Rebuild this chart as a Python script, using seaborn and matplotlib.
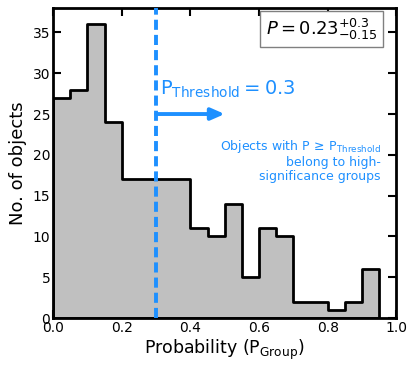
import numpy as np
import matplotlib
matplotlib.use("Agg")
import matplotlib.pyplot as plt
import seaborn as sns

# bin edges and counts
bin_edges = [0.0, 0.05, 0.10, 0.15, 0.20, 0.25, 0.30, 0.35, 0.40, 0.45,
             0.50, 0.55, 0.60, 0.65, 0.70, 0.75, 0.80, 0.85, 0.90, 0.95]
counts = [27, 28, 36, 24, 17, 17, 17, 17, 11, 10,
          14, 5, 11, 10, 2, 2, 1, 2, 6]
threshold = 0.3
x_ticks = [0.0, 0.2, 0.4, 0.6, 0.8, 1.0]
y_ticks = [0, 5, 10, 15, 20, 25, 30, 35]

blue = "#1E90FF"

sns.set_style("ticks", {"axes.edgecolor": "black", "text.color": "black",
                        "xtick.color": "black", "ytick.color": "black",
                        "axes.labelcolor": "black"})
plt.rcParams["font.family"] = ["DejaVu Sans"]

fig = plt.figure(figsize=(4.15, 3.7), dpi=100)
ax = fig.add_axes([0.128, 0.1405, 0.827, 0.838])

centers = [(a + b) / 2 for a, b in zip(bin_edges[:-1], bin_edges[1:])]
sns.histplot(x=centers, weights=counts, bins=bin_edges, element="step",
             fill=True, facecolor="silver", edgecolor="black", linewidth=2,
             alpha=1, ax=ax)

ax.axvline(threshold, color=blue, ls=(0, (2.6, 1.3)), lw=2.8, zorder=3)
ax.annotate("", xy=(0.5, 25), xytext=(threshold, 25),
            arrowprops=dict(arrowstyle="-|>,head_length=0.8,head_width=0.35",
                            color=blue, lw=2.8, shrinkA=0, shrinkB=0))
ax.text(0.31, 28, r"P$_{\rm Threshold}$$=0.3$", color=blue, fontsize=14,
        va="center", ha="left")
ax.text(0.955, 19.3,
        "Objects with P$\\,\\geq\\,$P$_{\\rm Threshold}$\nbelong to high-\nsignificance groups",
        color=blue, fontsize=9, ha="right", va="center", linespacing=1.1)

ax.text(0.945, 35.4, r"$P = 0.23^{+0.3}_{-0.15}$", fontsize=13,
        ha="right", va="center",
        bbox=dict(boxstyle="square,pad=0.3", facecolor="white",
                  edgecolor="gray", lw=1))

ax.set_xlim(0, 1)
ax.set_ylim(0, 38)
ax.set_xticks(x_ticks)
ax.set_yticks(y_ticks)
ax.set_xlabel(r"Probability (P$_{\rm Group}$)", fontsize=12.5, labelpad=2)
ax.set_ylabel("No. of objects", fontsize=13, labelpad=4)
ax.tick_params(direction="in", length=6, width=1.5, labelsize=10,
               top=True, right=True, pad=2, colors="black")
for s in ax.spines.values():
    s.set_linewidth(2)
    s.set_color("black")

fig.savefig("out.png", dpi=100)
